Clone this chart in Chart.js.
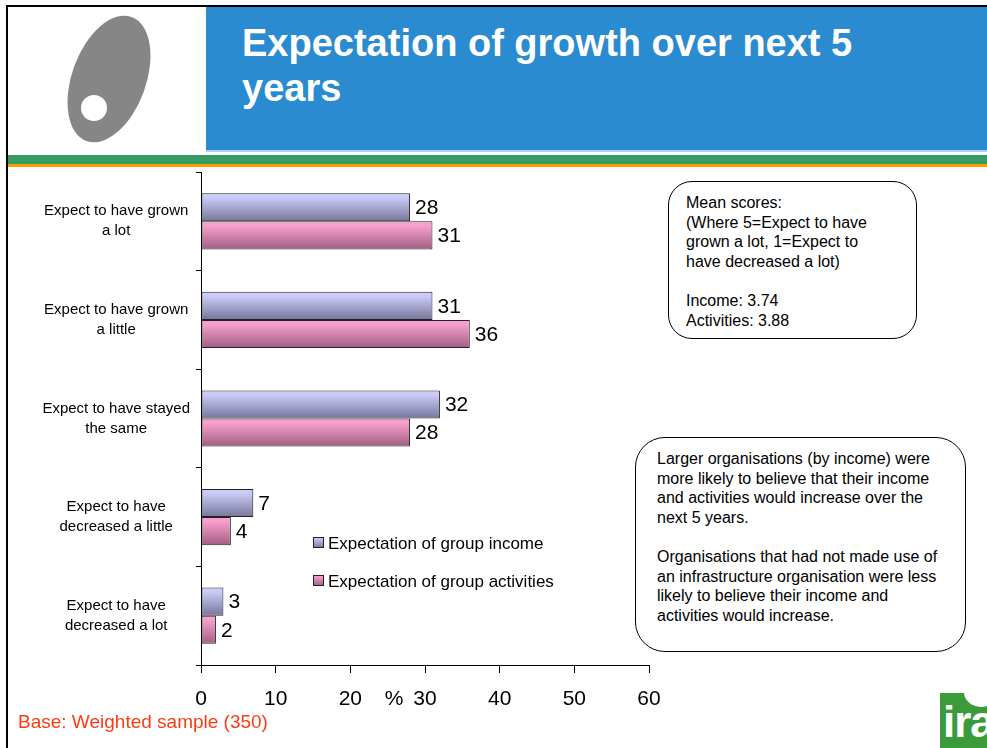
<!DOCTYPE html>
<html>
<head>
<meta charset="utf-8">
<title>Expectation of growth over next 5 years</title>
<script src="https://cdn.jsdelivr.net/npm/chart.js@4.4.0/dist/chart.umd.min.js"></script>
<style>
  html, body { margin: 0; padding: 0; background: #fff; }
  body {
    width: 987px; height: 748px; position: relative; overflow: hidden;
    font-family: "Liberation Sans", Arial, sans-serif; color: #000;
  }
  #chart { position: absolute; left: 0; top: 0; }

  /* slide frame + header */
  .frame-top  { position: absolute; left: 6px; top: 5px; right: 0; height: 2px; background: #000; }
  .frame-left { position: absolute; left: 6px; top: 5px; bottom: 0; width: 2px; background: #000; }
  .logo { position: absolute; left: 0; top: 0; filter: blur(0.6px); }
  .title-box {
    position: absolute; left: 206px; top: 7px; width: 781px; height: 143px;
    background: #2a8bd0; border-bottom: 2px solid #a9d5f2;
  }
  .title {
    position: absolute; left: 242px; top: 21px;
    font-size: 38px; font-weight: bold; line-height: 45px; color: #fff;
  }
  .band-green  { position: absolute; left: 8px; right: 0; top: 155px; height: 9px; background: #359a63; }
  .band-orange { position: absolute; left: 8px; right: 0; top: 164px; height: 3px; background: #ff9a00; }

  /* callouts */
  .note {
    position: absolute; box-sizing: border-box; border: 1px solid #000;
    background: #fff; font-size: 16px; line-height: 19.6px;
  }
  #note-mean { left: 668px; top: 181px; width: 249px; height: 158px; border-radius: 24px; padding: 11px 0 0 17px; }
  #note-size { left: 635px; top: 437px; width: 331px; height: 215px; border-radius: 30px; padding: 11px 0 0 21px; }

  .base { position: absolute; left: 18px; top: 711px; font-size: 19px; color: #ff3a12; }

  .ira {
    position: absolute; left: 940px; top: 693px; width: 47px; height: 55px;
    background: #3b9b3b; overflow: hidden;
  }
  .ira span {
    position: absolute; left: 3px; top: 4px; font-size: 44px; font-weight: bold;
    color: #fff; letter-spacing: -1px;
  }
  .ira i { position: absolute; left: 24px; top: -16px; width: 34px; height: 30px; border-radius: 50%; background: #fff; }
</style>
</head>
<body>
<canvas id="chart" width="987" height="748"></canvas>

<div class="frame-top"></div>
<div class="frame-left"></div>
<svg class="logo" width="206" height="152">
  <g transform="translate(109,79) rotate(20)">
    <ellipse rx="37" ry="66" fill="#868686"></ellipse>
  </g>
  <circle cx="94" cy="108" r="13" fill="#fff"></circle>
</svg>
<div class="title-box"></div>
<div class="title">Expectation of growth over next 5<br>years</div>
<div class="band-green"></div>
<div class="band-orange"></div>

<div class="note" id="note-mean">Mean scores:<br>(Where 5=Expect to have<br>grown a lot, 1=Expect to<br>have decreased a lot)<br><br>Income: 3.74<br>Activities: 3.88</div>
<div class="note" id="note-size">Larger organisations (by income) were<br>more likely to believe that their income<br>and activities would increase over the<br>next 5 years.<br><br>Organisations that had not made use of<br>an infrastructure organisation were less<br>likely to believe their income and<br>activities would increase.</div>

<div class="base">Base: Weighted sample (350)</div>
<div class="ira"><i></i><span>ira</span></div>

<script>
// survey answers, top to bottom
const categories = [
  ['Expect to have grown', 'a lot'],
  ['Expect to have grown', 'a little'],
  ['Expect to have stayed', 'the same'],
  ['Expect to have', 'decreased a little'],
  ['Expect to have', 'decreased a lot']
];
const seriesNames = ['Expectation of group income', 'Expectation of group activities'];
const incomeValues = [28, 31, 32, 7, 3];
const activityValues = [31, 36, 28, 4, 2];
const xTicks = [0, 10, 20, 30, 40, 50, 60];

const FONT = '"Liberation Sans", Arial, sans-serif';
const CAT_PCT = 0.57;

// light top -> dark bottom, like the old Office bar fills
const fills = [
  ['#cbcbf8', '#76769a'],
  ['#f7a0cc', '#a25d82']
];

function barFill(context) {
  const [light, dark] = fills[context.datasetIndex];
  const chart = context.chart;
  const yScale = chart.scales.y;
  if (context.type !== 'data' || !yScale) return dark;
  const band = yScale.height / categories.length;
  const barH = band * CAT_PCT / 2;
  const top = yScale.getPixelForValue(context.dataIndex) - band * CAT_PCT / 2 + context.datasetIndex * barH;
  // scales aren't laid out yet on the first pass
  if (!isFinite(top) || !isFinite(barH) || barH <= 0) return dark;
  const g = chart.ctx.createLinearGradient(0, top, 0, top + barH);
  g.addColorStop(0, light);
  g.addColorStop(0.15, light);
  g.addColorStop(1, dark);
  return g;
}

// numbers at the end of each bar
const valueLabels = {
  id: 'valueLabels',
  afterDatasetsDraw(chart) {
    const ctx = chart.ctx;
    ctx.save();
    ctx.font = '21px ' + FONT;
    ctx.fillStyle = '#000';
    ctx.textAlign = 'left';
    ctx.textBaseline = 'middle';
    chart.data.datasets.forEach((ds, i) => {
      chart.getDatasetMeta(i).data.forEach((bar, j) => {
        ctx.fillText(String(ds.data[j]), bar.x + 5, bar.y + 1);
      });
    });
    ctx.restore();
  }
};

// "%" axis title and the legend block inside the plot
const extras = {
  id: 'extras',
  afterDraw(chart) {
    const ctx = chart.ctx;
    const xs = chart.scales.x;
    ctx.save();
    ctx.fillStyle = '#000';
    ctx.font = '21px ' + FONT;
    ctx.textAlign = 'center';
    ctx.textBaseline = 'middle';
    ctx.fillText('%', xs.getPixelForValue(30) - 31, 699);

    ctx.font = '17px ' + FONT;
    ctx.textAlign = 'left';
    chart.data.datasets.forEach((ds, i) => {
      const y = 543 + i * 38;
      const g = ctx.createLinearGradient(0, y - 5, 0, y + 5);
      g.addColorStop(0, fills[i][0]);
      g.addColorStop(1, fills[i][1]);
      ctx.fillStyle = g;
      ctx.fillRect(313.5, y - 5.5, 10, 10);
      ctx.strokeStyle = '#222';
      ctx.lineWidth = 1;
      ctx.strokeRect(313.5, y - 5.5, 10, 10);
      ctx.fillStyle = '#000';
      ctx.fillText(ds.label, 328, y + 1);
    });
    ctx.restore();
  }
};

const barStyle = {
  backgroundColor: barFill,
  borderColor: '#222',
  borderWidth: 1,
  borderSkipped: false,
  barPercentage: 1,
  categoryPercentage: CAT_PCT
};

new Chart(document.getElementById('chart'), {
  type: 'bar',
  data: {
    labels: categories,
    datasets: [
      { label: seriesNames[0], data: incomeValues, ...barStyle },
      { label: seriesNames[1], data: activityValues, ...barStyle }
    ]
  },
  options: {
    indexAxis: 'y',
    responsive: false,
    animation: false,
    devicePixelRatio: 1,
    layout: { padding: { left: 0, right: 338, top: 172, bottom: 0 } },
    scales: {
      x: {
        min: 0,
        max: 60,
        afterBuildTicks(scale) { scale.ticks = xTicks.map(v => ({ value: v })); },
        afterFit(scale) { scale.height = 83; },
        border: { display: true, color: '#000', width: 1 },
        grid: { drawOnChartArea: false, drawTicks: true, tickLength: 8, color: '#000' },
        ticks: { color: '#000', font: { family: FONT, size: 21 }, padding: 14, maxRotation: 0 }
      },
      y: {
        afterFit(scale) { scale.width = 201; },
        border: { display: true, color: '#000', width: 1 },
        grid: { offset: true, drawOnChartArea: false, tickLength: 5, color: '#000' },
        ticks: {
          color: '#000',
          crossAlign: 'center',
          padding: 6,
          font: { family: FONT, size: 15, lineHeight: 1.33 }
        }
      }
    },
    plugins: {
      colors: { enabled: false },
      legend: { display: false },
      tooltip: { enabled: false }
    }
  },
  plugins: [valueLabels, extras]
});
</script>
</body>
</html>
